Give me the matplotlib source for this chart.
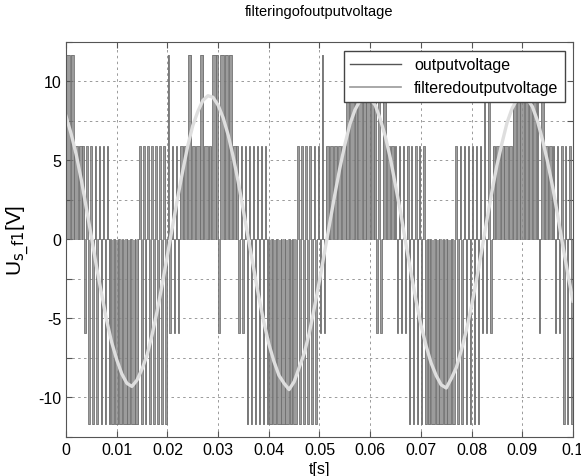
import numpy as np
import matplotlib
matplotlib.use("Agg")
import matplotlib.pyplot as plt

plt.rcParams['font.family'] = ['Liberation Sans', 'DejaVu Sans']

t_filt = np.linspace(0, 0.1, 101)
v_filt = [7.8, 6.7, 5.4, 3.8, 2.0, 0.2, -1.7, -3.4, -5.1, -6.5,
          -7.6, -8.5, -9.1, -9.3, -8.9, -8.2, -7.3, -6.0, -4.5, -2.8,
          -1.0, 0.8, 2.6, 4.3, 5.9, 7.2, 8.1, 8.8, 9.1, 9.0,
          8.5, 7.7, 6.6, 5.2, 3.6, 1.8, 0.0, -1.8, -3.6, -5.2,
          -6.6, -7.7, -8.6, -9.1, -9.5, -9.0, -8.1, -7.2, -5.9, -4.3,
          -2.6, -0.8, 1.0, 2.8, 4.5, 6.0, 7.3, 8.2, 8.8, 9.0,
          8.9, 8.5, 7.6, 6.5, 5.1, 3.4, 1.7, -0.2, -2.0, -3.8,
          -5.4, -6.7, -7.8, -8.6, -9.2, -9.4, -8.8, -8.1, -7.0, -5.7,
          -4.2, -2.5, -0.7, 1.2, 3.0, 4.7, 6.1, 7.4, 8.3, 8.9,
          9.0, 8.9, 8.4, 7.5, 6.3, 4.9, 3.3, 1.5, -0.4, -2.2, -3.9]

# output voltage: switching bands (start, end) in s
upper_bands = [(0.0, 0.0091), (0.0144, 0.0402), (0.0454, 0.0714), (0.0767, 0.1)]
upper_spikes = [(0.0, 0.0018), (0.0197, 0.0211), (0.0237, 0.0252), (0.0264, 0.0272),
                (0.0288, 0.0327), (0.0505, 0.0511), (0.0554, 0.0636),
                (0.0822, 0.0838), (0.0880, 0.0942)]
lower_bands = [(0.0031, 0.0225), (0.0297, 0.0306), (0.0333, 0.0512), (0.0611, 0.0627),
               (0.0645, 0.0840), (0.0928, 0.0934), (0.0960, 0.1)]
lower_spikes = [(0.0041, 0.0197), (0.0353, 0.0497), (0.0669, 0.0817), (0.0975, 0.1)]
level_low, level_high = 5.9, 11.7
pwm_period = 0.0008
duty_pattern = [0.82, 0.70, 0.88, 0.76, 0.92, 0.68, 0.85, 0.74, 0.90, 0.72]


def inside(t, bands):
    return any(a <= t < b for a, b in bands)


t_out = []
v_out = []
n = int(round(0.1 / pwm_period))
for k in range(n):
    t0 = k * pwm_period
    tc = t0 + pwm_period / 2
    d = duty_pattern[k % len(duty_pattern)]
    up = inside(tc, upper_bands)
    dn = inside(tc, lower_bands)
    hi = level_high if inside(tc, upper_spikes) else level_low
    lo = -level_high if inside(tc, lower_spikes) else -level_low
    T = pwm_period
    if up and dn:
        seq = [(0, 0), (0.03, hi), (0.03 + 0.46 * d, 0), (0.51, lo), (0.51 + 0.46 * d, 0)]
    elif up:
        seq = [(0, 0), ((1 - d) / 2, hi), ((1 + d) / 2, 0)]
    elif dn:
        seq = [(0, 0), ((1 - d) / 2, lo), ((1 + d) / 2, 0)]
    else:
        seq = [(0, 0)]
    for f, v in seq:
        t_out.append(t0 + f * T)
        v_out.append(v)
t_out.append(0.1)
v_out.append(0)

fig = plt.figure(figsize=(5.81, 4.77), dpi=100)
ax = fig.add_axes([0.1136, 0.0818, 0.8726, 0.8281])

ax.fill_between(t_out, v_out, 0, step='post', color='#9c9c9c', lw=0)
ax.plot(t_out, v_out, drawstyle='steps-post', color='#727272', lw=0.6,
        label='outputvoltage')
ax.plot(t_filt, v_filt, color='#dedede', lw=2.4, label='filteredoutputvoltage')

ax.set_xlim(0, 0.1)
ax.set_ylim(-12.5, 12.5)
ax.set_xticks(np.arange(0, 0.1001, 0.01))
ax.set_xticklabels(['0', '0.01', '0.02', '0.03', '0.04', '0.05', '0.06', '0.07',
                    '0.08', '0.09', '0.1'])
yt = np.arange(-12.5, 12.51, 2.5)
ax.set_yticks(yt)
ax.set_yticklabels([('%d' % v) if v % 5 == 0 else '' for v in yt])
ax.tick_params(direction='in', top=True, right=True, labelsize=11.5, length=4,
               color='#555555')
ax.grid(True, color='#8a8a8a', linestyle=(0, (3, 4)), lw=0.6)
for s in ax.spines.values():
    s.set_color('#555555')

leg = ax.legend(loc='upper right', bbox_to_anchor=(0.984, 0.977), borderaxespad=0,
                fancybox=False, edgecolor='#444444', fontsize=11.5, handlelength=3.2,
                framealpha=1)
leg.get_lines()[0].set_color('#555555')
leg.get_lines()[0].set_linewidth(1.0)
leg.get_lines()[1].set_color('#9a9a9a')
leg.get_lines()[1].set_linewidth(1.2)

fig.text(0.5495, 1 - 12 / 477, 'filteringofoutputvoltage', ha='center', va='center',
         fontsize=10.5)
fig.text(0.5495, 1 - 470 / 477, 't[s]', ha='center', va='center', fontsize=11.5)
fig.text(18 / 581, 0.495, r'U$_{\mathrm{s\_f1}}$[V]', rotation=90, ha='center',
         va='center', fontsize=15)

fig.savefig('out.png', dpi=100)
